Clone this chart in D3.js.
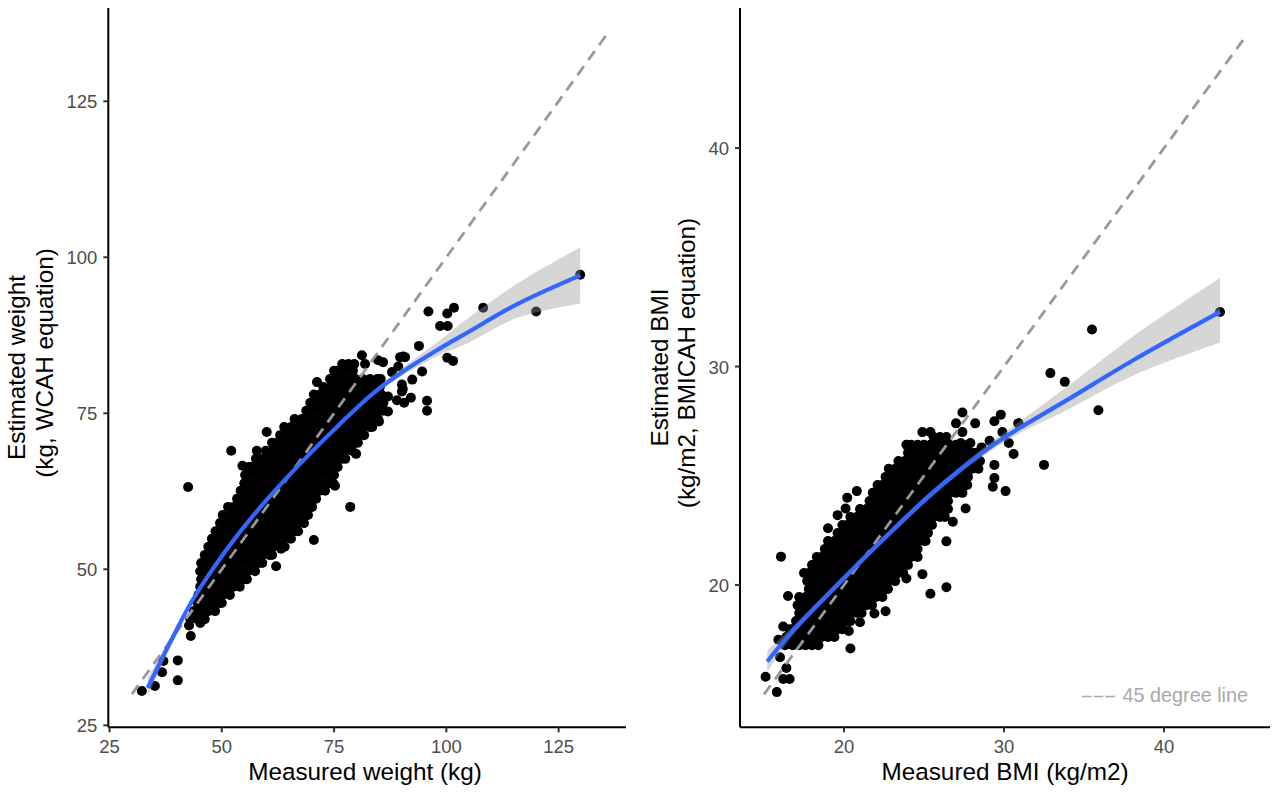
<!DOCTYPE html>
<html>
<head>
<meta charset="utf-8">
<script src="https://cdn.jsdelivr.net/npm/d3@7"></script>
<style>
	body { margin: 0; background: #fff; }
	text { font-family: "Liberation Sans", Helvetica, Arial, sans-serif; }
	.tick text { font-size: 18.5px; fill: #4d4d4d; }
	.tick line { stroke: #333; stroke-width: 2px; }
	.domain { stroke: #000; stroke-width: 2px; }
	.axis_title { font-size: 24.3px; fill: #000; text-anchor: middle; }
</style>
</head>
<body>
<svg id="chart" width="1273" height="792"></svg>
<script>
// values are read off the picture. the dense middle of each cloud is kept as
// rows of [estimated, [measured, ...]] because single points can't be told apart there
const weight_rows = [
	[42.0, [43,44.6,46.2]],
	[43.3, [43.8,45.4,47,48.5]],
	[44.6, [44.6,46.2,47.8,49.4,50]],
	[45.9, [44.8,47,45.4,48.6,50.2,51.8]],
	[47.2, [45.2,46.2,47.8,49.4,51,52.6,54]],
	[48.4, [45.4,47,48.6,50.2,51.8,53.4,55,55.6]],
	[49.7, [45.2,46.2,47.8,49.4,51,52.6,54.2,55.8,57.4]],
	[51.0, [45.4,47,48.6,50.2,51.8,53.4,55,56.6,58.2,59]],
	[52.3, [46.2,47.8,49.4,51,52.6,54.2,55.8,57.4,59,60.6,61.2]],
	[53.6, [47,48.6,50.2,51.8,53.4,55,56.6,58.2,59.8,61.4,63,64]],
	[54.9, [47.8,49.4,51,52.6,54.2,55.8,57.4,59,60.6,62.2,63.8,65.4]],
	[56.1, [48.6,50.2,51.8,53.4,55,56.6,58.2,59.8,61.4,63,64.6,66.2,67]],
	[57.4, [49.6,51,52.6,54.2,55.8,57.4,59,60.6,62.2,63.8,65.4,67,68.3]],
	[58.7, [50.2,51.8,53.4,55,56.6,58.2,59.8,61.4,63,64.6,66.2,67.8,69.2]],
	[60.0, [51.4,52.6,54.2,55.8,57.4,59,60.6,62.2,63.8,65.4,67,68.6,70.1]],
	[61.3, [53.4,55,56.6,58.2,59.8,61.4,63,64.6,66.2,67.8,69.4,71]],
	[62.6, [54.2,55.8,57.4,59,60.6,62.2,63.8,65.4,67,68.6,70.2,71.8,73]],
	[63.8, [55,56.6,58.2,59.8,61.4,63,64.6,66.2,67.8,69.4,71,72.6,74.2,74.8]],
	[65.1, [55.2,57.4,55.8,59,60.6,62.2,63.8,65.4,67,68.6,70.2,71.8,73.4,75]],
	[66.4, [56,56.6,58.2,59.8,61.4,63,64.6,66.2,67.8,69.4,71,72.6,74.2,75.8]],
	[67.7, [57.6,59,60.6,62.2,63.8,65.4,67,68.6,70.2,71.8,73.4,75,76.6,77.5]],
	[69.0, [59.8,61.4,63,64.6,66.2,67.8,69.4,71,72.6,74.2,75.8,77.4,79]],
	[70.3, [61.2,62.2,63.8,65.4,67,68.6,70.2,71.8,73.4,75,76.6,78.2,79.8,80.3]],
	[71.5, [63,64.6,66.2,67.8,69.4,71,72.6,74.2,75.8,77.4,79,80.6,81.7]],
	[72.8, [63.9,65.4,67,68.6,70.2,71.8,73.4,75,76.6,78.2,79.8,81.4,83,83.5]],
	[74.1, [66.2,67.8,69.4,71,72.6,74.2,75.8,77.4,79,80.6,82.2,83.8,84.8]],
	[75.4, [68.8,70.2,71.8,73.4,75,76.6,78.2,79.8,81.4,83,84.6,86]],
	[76.7, [69.7,71,72.6,74.2,75.8,77.4,79,80.6,82.2,83.8,85.4,86]],
	[78.0, [70.5,71.8,73.4,75,76.6,78.2,79.8,81.4,83,84.6,85.5]],
	[79.2, [72.6,74.2,75.8,77.4,79,80.6,82.2,83.8,85.2]],
	[80.5, [74.1,75,76.6,78.2,79.8,81.4,83,84.6,85.4]],
	[81.8, [75.9,77.4,79.2]],
	[82.9, [76.8,78.2,79.5]]
]
const weight_outliers = [
	[52.1,69],[42.5,63.2],[78.6,60],[70.5,54.7],[63.2,53.3],[62.1,50.5],[75.2,63.4],[79.9,68.5],
	[129.8,97.2],[120,91.3],[108.2,91.9],[101.7,91.9],[100.2,91],[96,91.3],[98.6,89],[100.3,89],
	[93.9,85.8],[100.2,83.9],[101.5,83.4],[94.6,81.7],[92.4,80.4],[90.8,84],[89.7,84],[90.3,78.9],
	[92.1,77.5],[90.6,76.7],[95.7,77],[95.7,75.4],[32.2,30.5],[35.1,31.3],[36.7,33.5],[37,35.3],
	[40.2,35.4],[40.2,32.2],[43.1,39.3],[42.7,41],[45.2,41.4],
	[81.2,84.3],[90.4,84.1],[84.8,83.5],[81.9,82.9],[85.9,83.2],[89.3,82.5],[87.9,81.6],[90.1,79.6],
	[90.1,78.5],[87,77.7],[89,77.1],[87,75.3],[85,73.7],[75,81.8],[71.2,80],[60,72],[57.8,69],[54.6,66.6]
]
const weight_smooth_x = [33.5,39.1,43.6,51.2,58.5,67.4,76.3,83.7,91.2,98.6,104.6,115.8,129.8]
const weight_smooth_y = [31,39.1,45.2,53.3,59.9,66.9,73.3,78.2,82.1,85.4,87.9,92.5,97.1]
const weight_band_low = [29.5,38.5,44.9,53.1,59.7,66.7,73.1,77.9,81.5,84.4,86.2,90.3,92.6]
const weight_band_high = [32.6,39.8,45.5,53.5,60.1,67.1,73.5,78.6,82.8,86.7,90.1,95.8,101.6]

const bmi_rows = [
	[17.25, [16.3,16.8,17.2,17.6,18,18.4]],
	[17.62, [16.4,16.6,17,17.4,17.8,18.2,18.6,19,19.4]],
	[17.98, [16.6,16.8,17.2,17.6,18,18.4,18.8,19.2,19.6,19.9]],
	[18.35, [17,17.4,17.8,18.2,18.6,19,19.4,19.8,20.2,20.4]],
	[18.72, [17.2,17.6,18,18.4,18.8,19.2,19.6,20,20.4,20.8,21.1]],
	[19.08, [17.1,17.4,17.8,18.2,18.6,19,19.4,19.8,20.2,20.6,21,21.4,21.75]],
	[19.45, [17.2,17.6,18,18.4,18.8,19.2,19.6,20,20.4,20.8,21.2,21.6,22,22.4]],
	[19.82, [17.8,18.2,18.6,19,19.4,19.8,20.2,20.6,21,21.4,21.8,22.2,22.6,22.75]],
	[20.18, [18,17.7,18.4,18.8,19.2,19.6,20,20.4,20.8,21.2,21.6,22,22.4,22.8,23.2]],
	[20.55, [17.5,17.8,18.2,18.6,19,19.4,19.8,20.2,20.6,21,21.4,21.8,22.2,22.6,23,23.4,23.7]],
	[20.92, [18,18.4,18.8,19.2,19.6,20,20.4,20.8,21.2,21.6,22,22.4,22.8,23.2,23.6,24]],
	[21.28, [18.3,18.6,19,19.4,19.8,20.2,20.6,21,21.4,21.8,22.2,22.6,23,23.4,23.8,24.2,24.6]],
	[21.65, [18.8,19.2,19.6,20,20.4,20.8,21.2,21.6,22,22.4,22.8,23.2,23.6,24,24.4,24.6]],
	[22.02, [19,19.4,19.8,20.2,20.6,21,21.4,21.8,22.2,22.6,23,23.4,23.8,24.2,24.6,25,25.1]],
	[22.38, [19.6,20,20.4,20.8,21.2,21.6,22,22.4,22.8,23.2,23.6,24,24.4,24.8,25.25]],
	[22.75, [19.9,20.2,20.6,21,21.4,21.8,22.2,22.6,23,23.4,23.8,24.2,24.6,25,25.4,25.5]],
	[23.12, [20.4,20.8,21.2,21.6,22,22.4,22.8,23.2,23.6,24,24.4,24.8,25.2,25.6,26,26.3]],
	[23.48, [21,21.4,21.8,22.2,22.6,23,23.4,23.8,24.2,24.6,25,25.4,25.8,26.2,26.5]],
	[23.85, [21.6,22,22.4,22.8,23.2,23.6,24,24.4,24.8,25.2,25.6,26,26.4,26.5]],
	[24.22, [21.8,22.2,22.6,23,23.4,23.8,24.2,24.6,25,25.4,25.8,26.2,26.6,27,27.4]],
	[24.58, [22.1,22.4,22.8,23.2,23.6,24,24.4,24.8,25.2,25.6,26,26.4,26.8,27.2,27.6,27.7]],
	[24.95, [22.6,23,23.4,23.8,24.2,24.6,25,25.4,25.8,26.2,26.6,27,27.4,27.75]],
	[25.32, [22.8,23.2,23.6,24,24.4,24.8,25.2,25.6,26,26.4,26.8,27.2,27.6,28,28.4]],
	[25.68, [23.4,23.8,24.2,24.6,25,25.4,25.8,26.2,26.6,27,27.4,27.8,28.2,28.5]],
	[26.05, [24,24.4,24.8,25.2,25.6,26,26.4,26.8,27.2,27.6,28,28.3]],
	[26.42, [23.9,24.2,24.6,25,25.4,25.8,26.2,26.6,27,27.4,27.75]],
	[26.78, [25.6,26,26.4]]
]
const bmi_outliers = [
	[16.06,21.3],[20.4,17.1],[25.4,19.6],[26.4,19.9],[26.4,22],[26.8,22.9],[27.6,23.5],[21.9,18.7],
	[22.6,18.8],[23.9,20.3],[24.9,20.5],[30.1,24.3],[29.3,24.5],[29.4,24.9],[29.4,25.5],[30.6,26],
	[29.8,27.8],[29.4,27.5],[28.2,27.4],[27.4,27.9],[27,27.4],[27.4,27],[27.3,26.5],[27.9,26.5],
	[29.1,26.6],[28.6,26.3],[29.9,27],[30.9,27.4],[30.3,26.5],[24.9,27],[25.4,27],[26.3,26.5],
	[20.8,24.3],[20.2,24],[20.1,23.5],[19.6,23.2],[19,22.6],[16.5,19.5],[15.1,15.8],[15.8,15.1],
	[16.2,15.7],[16.6,15.7],[16.4,16.2],[15.9,17.5],[16.2,18.1],[16.5,17.3],[16,16.7],[20.3,17.9],
	[21,18.3],[43.5,32.5],[35.5,31.7],[32.9,29.7],[33.8,29.3],[35.9,28],[32.5,25.5],[30.9,27.4]
]
const bmi_smooth_x = [15.2,16.8,18.9,21,23.1,25.2,27.3,29.3,31,33.9,38.1,43.5]
const bmi_smooth_y = [16.5,17.9,19.5,21.05,22.55,24,25.3,26.4,27.2,28.45,30.3,32.5]
const bmi_band_low = [16,17.7,19.35,20.9,22.4,23.85,25.15,26.2,26.95,28,29.6,31.1]
const bmi_band_high = [17,18.1,19.65,21.2,22.7,24.15,25.45,26.6,27.5,29.05,31.4,34.05]

const weight_ticks = [25,50,75,100,125]
const bmi_ticks = [20,30,40]
const legend_label = "45 degree line"

const svg = d3.select("#chart")

function rows_to_points(rows) {
	return rows.flatMap((row) => row[1].map((x) => [x, row[0]]))
}

function draw_panel(opts) {
	const x = d3.scaleLinear().domain(opts.x_domain).range(opts.x_range)
	const y = d3.scaleLinear().domain(opts.y_domain).range([727.3, 8])
	const g = svg.append("g")

	g.selectAll("circle.point")
		.data(rows_to_points(opts.rows).concat(opts.outliers))
		.enter().append("circle")
		.classed("point", true)
		.attr("cx", (d) => x(d[0]))
		.attr("cy", (d) => y(d[1]))
		.attr("r", 5)
		.attr("fill", "#000")

	// 45 degree line
	g.append("path")
		.attr("d", d3.line().x((d) => x(d)).y((d) => y(d))(opts.line_ends))
		.attr("fill", "none")
		.attr("stroke", "#999")
		.attr("stroke-width", 2.8)
		.attr("stroke-dasharray", "11,7.6")

	// smooth and its band
	const idx = d3.range(opts.smooth_x.length)
	g.append("path")
		.attr("d", d3.area().curve(d3.curveCatmullRom)
			.x((i) => x(opts.smooth_x[i]))
			.y0((i) => y(opts.band_low[i]))
			.y1((i) => y(opts.band_high[i]))(idx))
		.attr("fill", "#999")
		.attr("fill-opacity", 0.4)

	g.append("path")
		.attr("d", d3.line().curve(d3.curveCatmullRom)
			.x((i) => x(opts.smooth_x[i]))
			.y((i) => y(opts.smooth_y[i]))(idx))
		.attr("fill", "none")
		.attr("stroke", "#3366ff")
		.attr("stroke-width", 4.2)

	g.append("g")
		.attr("transform", "translate(0,727.3)")
		.call(d3.axisBottom(x).tickValues(opts.ticks_x).tickSizeOuter(0).tickSizeInner(5).tickPadding(7.3).offset(0))
	g.append("g")
		.attr("transform", "translate(" + opts.x_range[0] + ",0)")
		.call(d3.axisLeft(y).tickValues(opts.ticks_y).tickSizeOuter(0).tickSizeInner(5).tickPadding(6).offset(0))
		.selectAll("text").attr("dy", "0.38em")

	g.append("text").classed("axis_title", true)
		.attr("x", opts.x_title_pos)
		.attr("y", 780)
		.text(opts.x_title)

	opts.y_title.forEach((line, i) => {
		g.append("text").classed("axis_title", true)
			.attr("transform", "translate(" + opts.y_title_x[i] + "," + opts.y_title_y[i] + ") rotate(-90)")
			.text(line)
	})
}

draw_panel({
	rows: weight_rows, outliers: weight_outliers,
	x_domain: [24.73, 140], x_range: [108.3, 626],
	y_domain: [24.68, 139.95],
	line_ends: [30, 135.6],
	smooth_x: weight_smooth_x, smooth_y: weight_smooth_y,
	band_low: weight_band_low, band_high: weight_band_high,
	ticks_x: weight_ticks, ticks_y: weight_ticks,
	x_title: "Measured weight (kg)", x_title_pos: 365,
	y_title: ["Estimated weight", "(kg, WCAH equation)"], y_title_x: [25, 53], y_title_y: [367.5, 363]
})

draw_panel({
	rows: bmi_rows, outliers: bmi_outliers,
	x_domain: [13.5, 46.625], x_range: [740, 1270],
	y_domain: [13.49, 46.41],
	line_ends: [15, 45],
	smooth_x: bmi_smooth_x, smooth_y: bmi_smooth_y,
	band_low: bmi_band_low, band_high: bmi_band_high,
	ticks_x: bmi_ticks, ticks_y: bmi_ticks,
	x_title: "Measured BMI (kg/m2)", x_title_pos: 1005,
	y_title: ["Estimated BMI", "(kg/m2, BMICAH equation)"], y_title_x: [668, 695], y_title_y: [367.5, 363]
})

// legend note, three short dashes and the label
svg.append("line")
	.attr("x1", 1082).attr("x2", 1115)
	.attr("y1", 696.5).attr("y2", 696.5)
	.attr("stroke", "#a9a9a9")
	.attr("stroke-width", 1.6)
	.attr("stroke-dasharray", "9.5,2.2")
svg.append("text")
	.attr("x", 1248)
	.attr("y", 702)
	.attr("text-anchor", "end")
	.attr("font-size", 19.8)
	.attr("fill", "#a9a9a9")
	.text(legend_label)
</script>
</body>
</html>
